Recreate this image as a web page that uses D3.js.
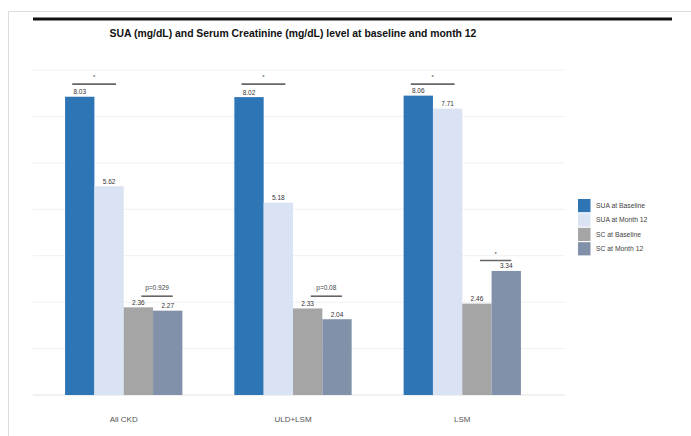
<!DOCTYPE html>
<html><head><meta charset="utf-8">
<script src="https://cdn.jsdelivr.net/npm/d3@7"></script>
<style>html,body{margin:0;padding:0;background:#fff;}svg{display:block;font-family:"Liberation Sans",Arial,sans-serif;}</style>
</head><body><svg id="c" width="691" height="436"></svg>
<script>
const categories = ["All CKD", "ULD+LSM", "LSM"];
const seriesNames = ["SUA at Baseline", "SUA at Month 12", "SC at Baseline", "SC at Month 12"];
const suaBaseline = [8.03, 8.02, 8.06];
const suaMonth12 = [5.62, 5.18, 7.71];
const scBaseline = [2.36, 2.33, 2.46];
const scMonth12 = [2.27, 2.04, 3.34];
const valueLabels = [["8.03","8.02","8.06"],["5.62","5.18","7.71"],["2.36","2.33","2.46"],["2.27","2.04","3.34"]];
const colors = ["#2E75B6", "#DAE3F3", "#A5A5A5", "#8091A9"];
const gridTicks = [0, 1.25, 2.5, 3.75, 5, 6.25, 7.5, 8.75];
// significance brackets: category, first series, second series, label, level
const bracketCats = ["All CKD", "ULD+LSM", "LSM", "All CKD", "ULD+LSM", "LSM"];
const bracketFrom = [0, 0, 0, 2, 2, 2];
const bracketTo = [1, 1, 1, 3, 3, 3];
const bracketLabels = ["*", "*", "*", "p=0.929", "p=0.08", "*"];
const bracketLevels = [8.37, 8.37, 8.37, 2.66, 2.66, 3.62];

const seriesVals = [suaBaseline, suaMonth12, scBaseline, scMonth12];
const svg = d3.select("#c");

// frame
svg.append("line").attr("x1",8.5).attr("x2",691).attr("y1",11.5).attr("y2",11.5).attr("stroke","#dcdcdc").attr("stroke-width",1);
svg.append("line").attr("x1",8.5).attr("x2",8.5).attr("y1",11.5).attr("y2",436).attr("stroke","#dcdcdc").attr("stroke-width",1);
svg.append("line").attr("x1",33).attr("x2",672).attr("y1",19).attr("y2",19).attr("stroke","#111").attr("stroke-width",2.8);

svg.append("text").attr("x",293).attr("y",37).attr("text-anchor","middle")
  .attr("font-size",10.4).attr("font-weight","bold").attr("fill","#111")
  .text("SUA (mg/dL) and Serum Creatinine (mg/dL) level at baseline and month 12");

const y = d3.scaleLinear().domain([0, 8.75]).range([395, 70]);
const x0 = d3.scaleBand().domain(categories).range([39, 547]).paddingInner(0.307).paddingOuter(0.154);
const x1 = d3.scaleBand().domain(d3.range(4)).range([0, x0.bandwidth()]);

// grid
svg.append("g").selectAll("line").data(gridTicks).join("line")
  .attr("x1",33).attr("x2",565).attr("y1",d=>y(d)).attr("y2",d=>y(d))
  .attr("stroke", d=> d===0 ? "#e2e2e2" : "#f0f0f0").attr("stroke-width",1);

// bars
const g = svg.append("g");
categories.forEach((c, ci) => {
  seriesVals.forEach((vals, si) => {
    const bx = x0(c) + x1(si);
    g.append("rect").attr("x", bx).attr("y", y(vals[ci])).attr("width", x1.bandwidth()).attr("height", y(0) - y(vals[ci]))
      .attr("fill", colors[si]);
    g.append("text").attr("x", bx + x1.bandwidth()/2).attr("y", y(vals[ci]) - 2.5)
      .attr("text-anchor","middle").attr("font-size",6.5).attr("fill","#333").text(valueLabels[si][ci]);
  });
});

// brackets
bracketCats.forEach((c, i) => {
  const isSUA = bracketFrom[i] === 0;
  const a = x0(c) + x1(bracketFrom[i]) + x1.bandwidth()/2 + (isSUA ? -7.5 : 3);
  const b = x0(c) + x1(bracketTo[i]) + x1.bandwidth()/2 + (isSUA ? 7 : 5);
  const ly = y(bracketLevels[i]);
  svg.append("line").attr("x1",a).attr("x2",b).attr("y1",ly).attr("y2",ly).attr("stroke","#666").attr("stroke-width",1.6);
  svg.append("text").attr("x",(a+b)/2).attr("y", ly - (bracketLabels[i]==="*" ? 5 : 6))
    .attr("text-anchor","middle").attr("font-size", bracketLabels[i]==="*" ? 6 : 6.5).attr("fill","#444").text(bracketLabels[i]);
});

// category labels
svg.append("g").selectAll("text").data(categories).join("text")
  .attr("x", d => x0(d) + x0.bandwidth()/2).attr("y", 422).attr("text-anchor","middle")
  .attr("font-size",8).attr("fill","#555").text(d=>d);

// legend
const lg = svg.append("g").attr("transform","translate(578,199)");
seriesNames.forEach((n, i) => {
  lg.append("rect").attr("x",0).attr("y", i*14.4).attr("width",12.5).attr("height",13.2).attr("fill",colors[i]);
  lg.append("text").attr("x",18).attr("y", i*14.4 + 9).attr("font-size",6.8).attr("fill","#444").text(n);
});
</script></body></html>
